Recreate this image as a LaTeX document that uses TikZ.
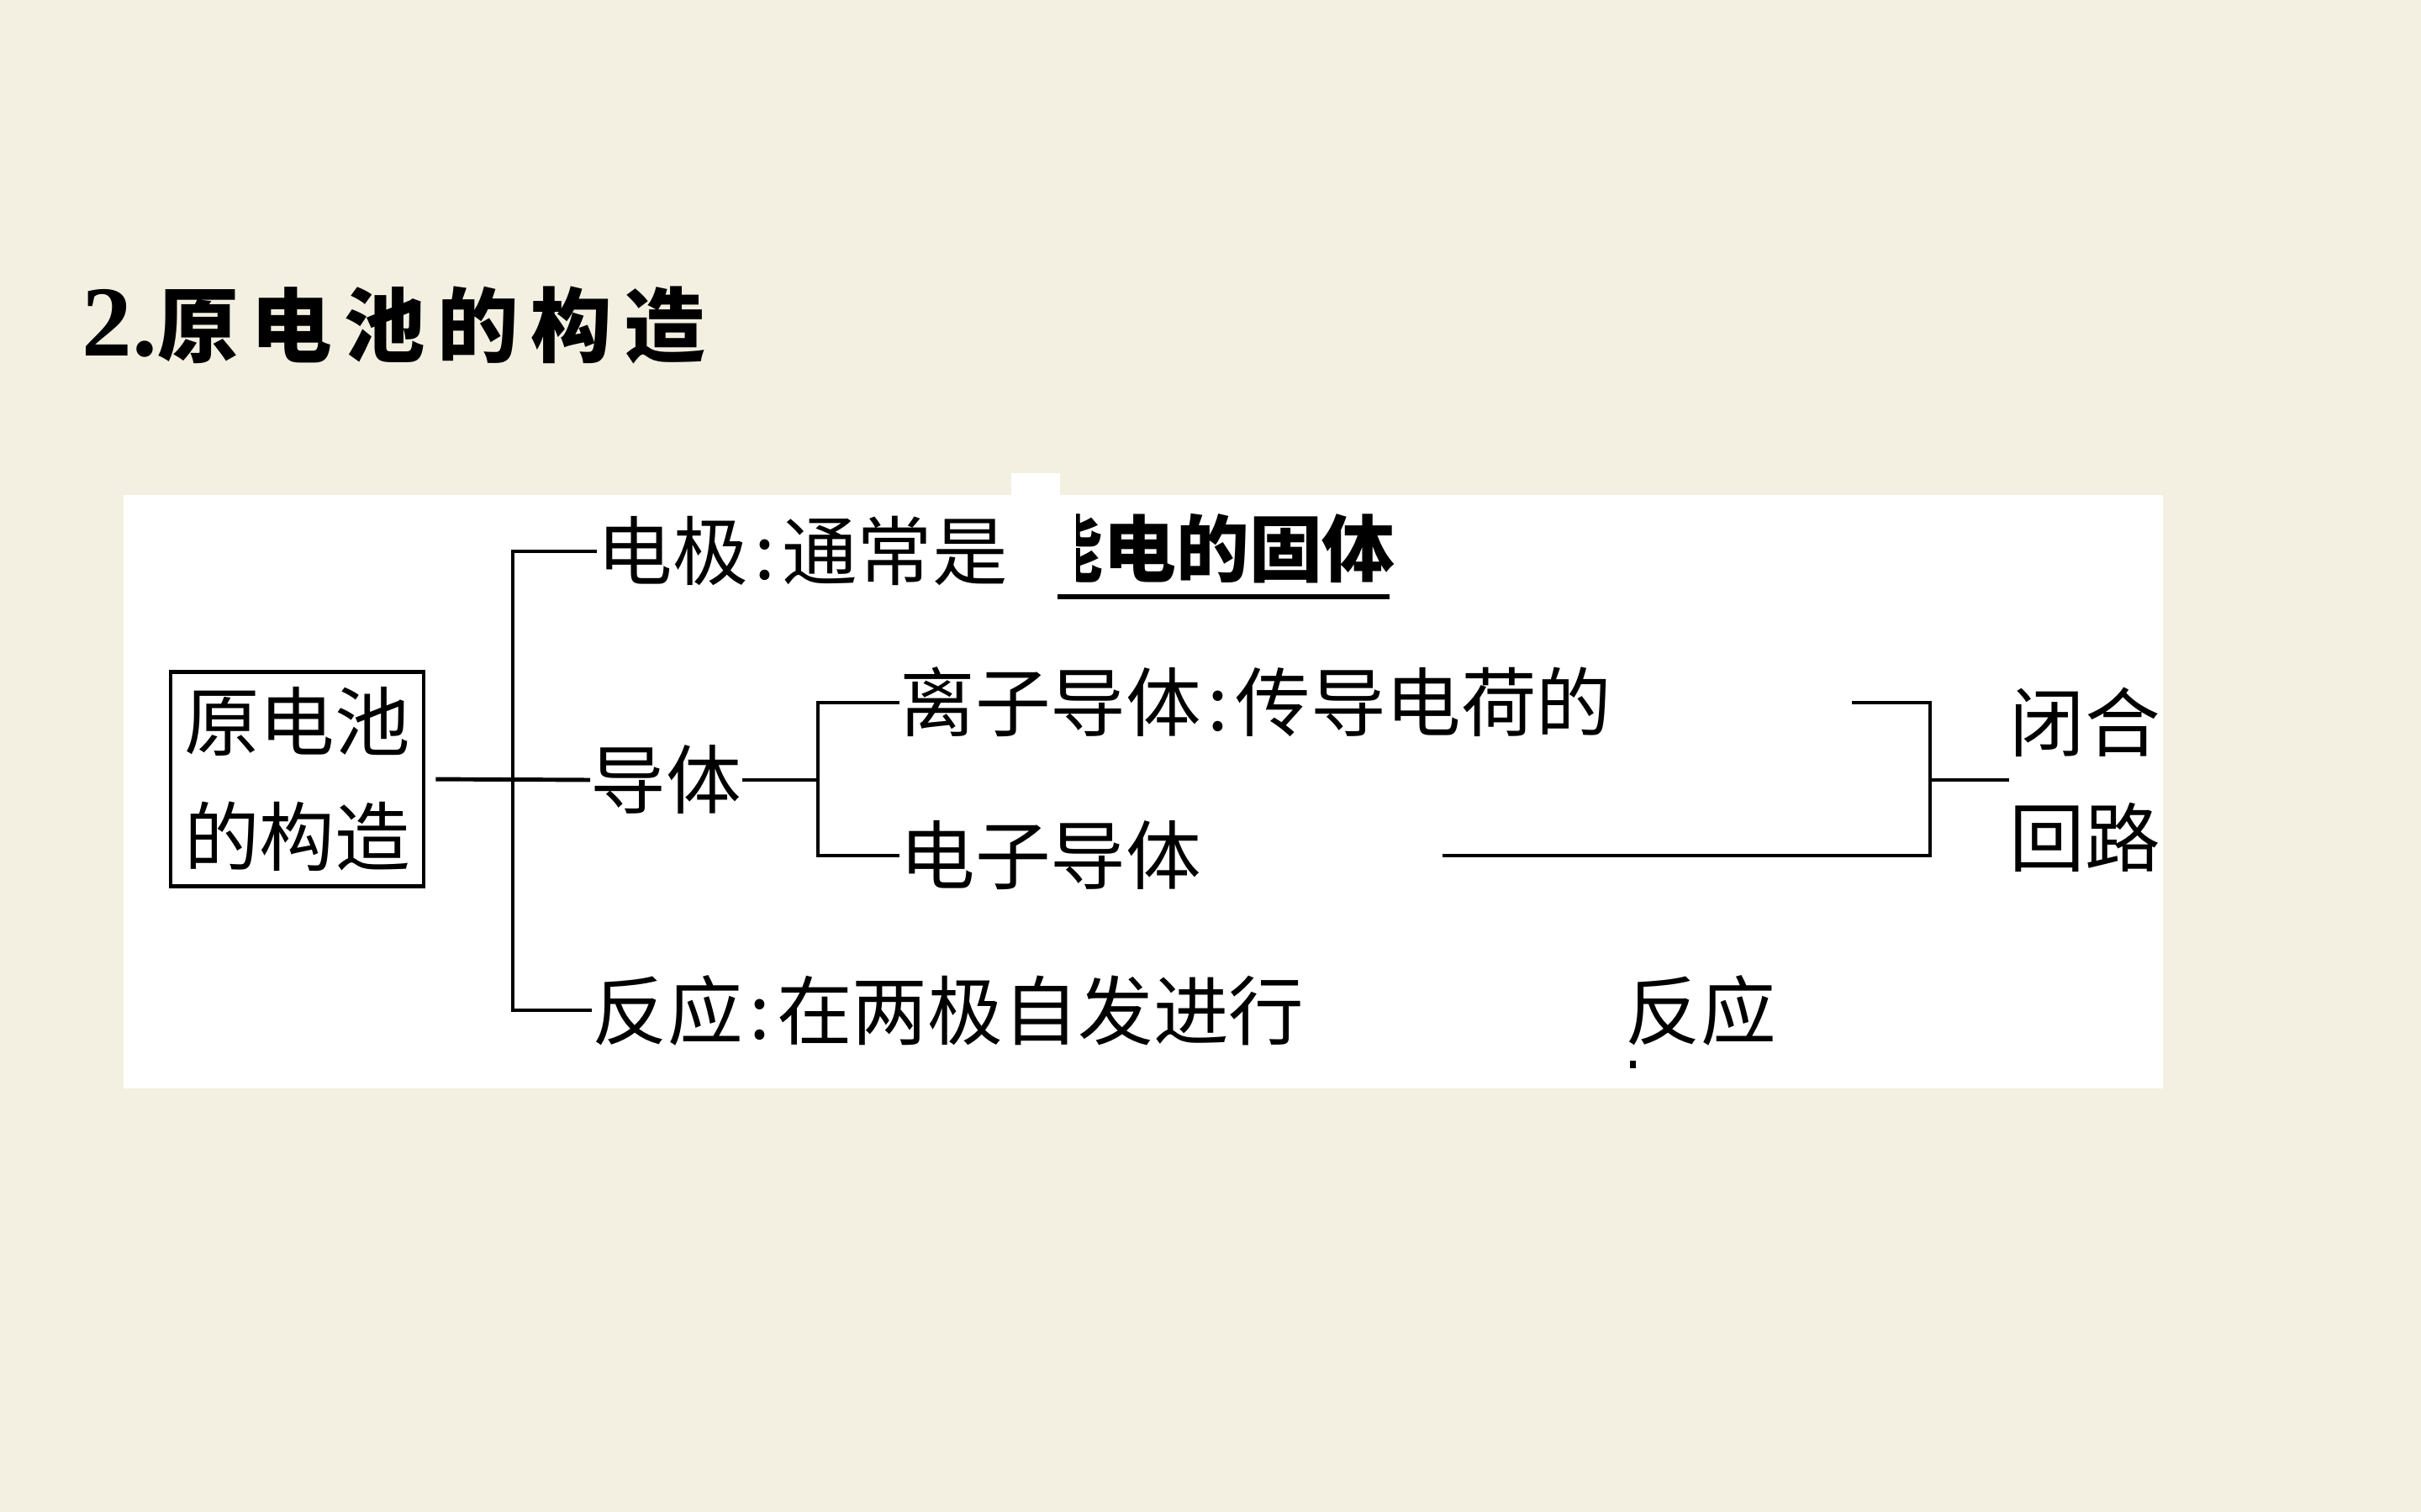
\documentclass[tikz,border=0pt]{standalone}
\usepackage{fontspec}
\setmainfont{Liberation Serif}
\newfontfamily\cjk{Noto Sans CJK SC}
\definecolor{bgPaper}{HTML}{F3F0E2}
\usetikzlibrary{positioning}
\newcommand\bodyfont{\cjk\fontsize{25.5pt}{38.9pt}\selectfont}
\newcommand\hcolon{\makebox[0.45em]{:}}

\begin{document}
\begin{tikzpicture}[
    lbl/.style={anchor=west, inner sep=0pt, text height=0.79cm, text depth=0.11cm, font=\bodyfont},
    twoline/.style={inner sep=0pt, align=center, font=\bodyfont},
    tree/.style={line width=1.4pt}]
  \fill[bgPaper] (0,0) rectangle (28.8,-17.99);
  \fill[white] (1.47,-5.89) rectangle (25.73,-12.95);
  \fill[white] (12.03,-5.63) rectangle (12.61,-5.90);

  \node[anchor=base west, inner sep=0pt] (title) at (0.97,-4.24)
    {{\bfseries\fontsize{34pt}{40pt}\selectfont 2.}{\cjk\bfseries\fontsize{27.5pt}{33pt}\selectfont\addfontfeature{LetterSpace=15}原电池的构造}};

  \node[twoline, draw, line width=1.4pt, minimum width=3.01cm, minimum height=2.55cm] (root) at (3.535,-9.27) {原电池\\的构造};
  \node[lbl] (e1) at (7.10,-6.56) {电极\hcolon 通常是};
  \node[lbl, font=\cjk\bfseries\fontsize{24.7pt}{30pt}\selectfont] (ans1) at (12.25,-6.52) {能电的固体};
  \fill[white] (12.03,-5.89) rectangle (12.80,-7.02);
  \draw[line width=1.5pt] (12.58,-7.10) -- (16.53,-7.10);
  \node[lbl] (dt) at (7.02,-9.28) {导体};
  \node[lbl] (fy) at (7.04,-12.02) {反应\hcolon 在两极自发进行};
  \node[lbl] (lz) at (10.70,-8.36) {离子导体\hcolon 传导电荷的};
  \node[lbl] (dz) at (10.70,-10.18) {电子导体};
  \node[lbl] (fy2) at (19.33,-12.02) {反应};
  \node[twoline, anchor=west] (loop) at (23.90,-9.28) {闭合\\回路};
  \fill (19.39,-12.62) rectangle (19.46,-12.71);

  \coordinate (sp) at (6.10,-9.28);
  \coordinate (ss) at (9.73,-9.28);
  \coordinate (ionend) at (22.03,-8.36);
  \coordinate (elecend) at (17.16,-10.18);
  \coordinate (br) at (22.96,-9.28);

  \draw[tree, shorten <=0.12cm] (root.east) -- (dt.west);
  \draw[tree] (e1.west) -| (sp) |- (fy.west);
  \draw[tree] (dt.east) -- (ss);
  \draw[tree] (lz.west) -| (ss) |- (dz.west);
  \draw[tree] (ionend) -| (br) |- (elecend);
  \draw[tree] (br) -- (loop.west);
\end{tikzpicture}
\end{document}
